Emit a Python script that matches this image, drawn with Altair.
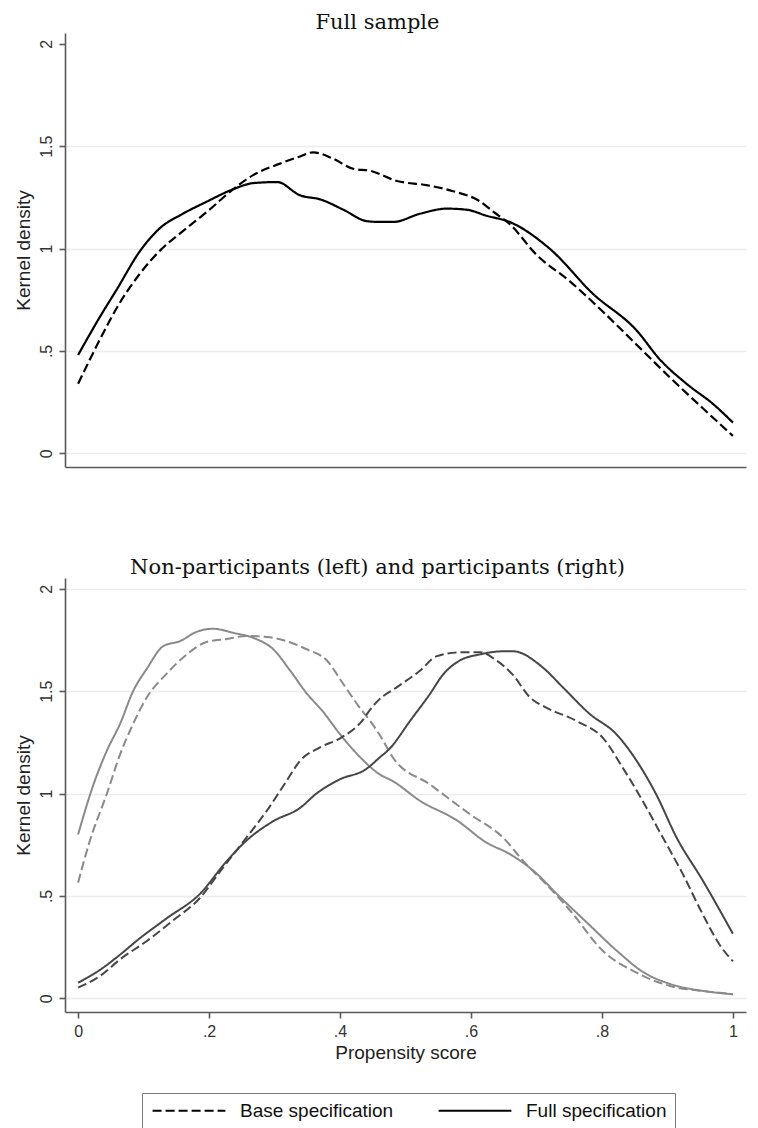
import altair as alt
import pandas as pd

# ---------------- data ----------------
# Top panel: full sample
top_full_x = [0, .034, .059, .095, .125, .16, .197, .237, .268, .304, .339, .37, .405, .441, .46, .481,
              .522, .563, .593, .624, .659, .72, .786, .853, .888, .929, .97, 1.0]
top_full_y = [.48, .67, .80, .99, 1.10, 1.17, 1.23, 1.29, 1.32, 1.325, 1.26, 1.24, 1.19, 1.134, 1.13, 1.13,
              1.17, 1.195, 1.19, 1.16, 1.13, 1.0, .78, .60, .46, .34, .24, .15]

top_base_x = [0, .034, .059, .095, .125, .16, .197, .237, .268, .304, .339, .359, .389, .42, .446, .487,
              .532, .573, .614, .634, .659, .7, .751, .802, .853, .904, .954, 1.0]
top_base_y = [.34, .56, .71, .88, .99, 1.085, 1.18, 1.29, 1.36, 1.41, 1.45, 1.47, 1.44, 1.39, 1.38, 1.33,
              1.31, 1.28, 1.23, 1.18, 1.12, .97, .84, .69, .53, .37, .22, .085]

# Bottom panel: non-participants (left)
np_full_x = [0, .023, .044, .064, .084, .105, .13, .156, .181, .206, .237, .268, .298, .324, .349, .374,
             .4, .43, .46, .481, .522, .578, .624, .659, .7, .731, .777, .827, .862, .904, .954, 1.0]
np_full_y = [.80, 1.04, 1.21, 1.34, 1.50, 1.61, 1.72, 1.745, 1.79, 1.805, 1.785, 1.76, 1.705, 1.60, 1.49, 1.40,
             1.29, 1.18, 1.095, 1.06, .965, .87, .76, .705, .61, .51, .37, .22, .13, .07, .036, .02]

np_base_x = [0, .018, .044, .064, .084, .105, .135, .166, .196, .227, .257, .288, .318, .349, .38, .405,
             .43, .446, .46, .481, .537, .598, .649, .68, .72, .751, .802, .853, .904, .954, 1.0]
np_base_y = [.565, .77, 1.0, 1.19, 1.34, 1.47, 1.585, 1.68, 1.74, 1.755, 1.77, 1.765, 1.745, 1.705, 1.65, 1.535,
             1.42, 1.355, 1.29, 1.175, 1.045, .90, .785, .67, .54, .43, .23, .125, .06, .036, .02]

# Bottom panel: participants (right)
p_full_x = [0, .034, .059, .095, .135, .186, .227, .257, .298, .339, .364, .4, .44, .446, .46, .476, .507,
            .537, .557, .583, .614, .649, .664, .71, .74, .781, .822, .853, .883, .914, .954, 1.0]
p_full_y = [.076, .14, .20, .295, .39, .51, .67, .77, .865, .93, 1.0, 1.07, 1.12, 1.135, 1.175, 1.22, 1.355,
            1.485, 1.58, 1.65, 1.68, 1.695, 1.695, 1.615, 1.52, 1.39, 1.29, 1.16, .995, .785, .575, .315]

p_base_x = [0, .034, .064, .105, .145, .186, .217, .257, .288, .318, .339, .369, .4, .435, .446, .46, .487,
            .522, .547, .583, .614, .639, .664, .69, .715, .761, .802, .832, .862, .893, .923, .954, .979, 1.0]
p_base_y = [.052, .11, .19, .28, .38, .49, .62, .785, .915, 1.06, 1.16, 1.225, 1.27, 1.36, 1.41, 1.46, 1.52,
            1.60, 1.67, 1.69, 1.69, 1.65, 1.58, 1.47, 1.42, 1.355, 1.27, 1.125, .965, .785, .61, .41, .265, .18]

SPECS = ["Base specification", "Full specification"]
GROUPS = ["Non-participants", "Participants"]
y_ticks = [0, 0.5, 1, 1.5, 2]
x_ticks = [0, 0.2, 0.4, 0.6, 0.8, 1]


def frame(xs, ys, spec, grp):
    return pd.DataFrame({"x": xs, "y": ys, "spec": spec, "grp": grp})


top_df = pd.concat([frame(top_base_x, top_base_y, SPECS[0], "All"),
                    frame(top_full_x, top_full_y, SPECS[1], "All")], ignore_index=True)
bot_df = pd.concat([frame(np_base_x, np_base_y, SPECS[0], GROUPS[0]),
                    frame(np_full_x, np_full_y, SPECS[1], GROUPS[0]),
                    frame(p_base_x, p_base_y, SPECS[0], GROUPS[1]),
                    frame(p_full_x, p_full_y, SPECS[1], GROUPS[1])], ignore_index=True)

X_DOM = [-0.02, 1.02]
Y_DOM = [-0.067, 2.053]
W, H = 681, 434

dash_scale = alt.Scale(domain=SPECS, range=[[9, 4], [1, 0]])
legend = alt.Legend(title=None, orient="none", legendX=77, legendY=1060, direction="horizontal",
                    symbolType="M-5.2,0H5.2", symbolSize=196, symbolStrokeWidth=2,
                    symbolOffset=29.5, symbolStrokeColor="black", symbolFillColor="transparent",
                    labelFont="Liberation Sans", labelFontSize=19,
                    labelColor="#111111", labelOffset=41.5, columnPadding=40, padding=8,
                    strokeColor="#7a7a7a", labelLimit=400)

y_label_expr = "datum.value == 0.5 ? '.5' : datum.value == 1.5 ? '1.5' : '' + datum.value"
x_label_expr = "datum.value == 0 ? '0' : datum.value == 1 ? '1' : '.' + round(datum.value * 10)"


def y_axis(hide_top_grid):
    grid_color = ({"condition": {"test": "datum.value == 2", "value": "transparent"}, "value": "#ececec"}
                  if hide_top_grid else "#ececec")
    return alt.Axis(title="Kernel density", values=y_ticks, labelExpr=y_label_expr, labelAngle=270,
                    labelAlign="center", labelBaseline="bottom", labelPadding=5, tickSize=6,
                    titlePadding=5, grid=True, gridColor=grid_color, gridWidth=1.5)


x_scale = alt.Scale(domain=X_DOM, nice=False, zero=False)
y_scale = alt.Scale(domain=Y_DOM, nice=False, zero=False)

top = alt.Chart(top_df).mark_line(strokeWidth=2.2, color="black", interpolate="monotone").encode(
    x=alt.X("x:Q", scale=x_scale, axis=alt.Axis(title=None, labels=False, ticks=False, grid=False)),
    y=alt.Y("y:Q", scale=y_scale, axis=y_axis(True)),
    strokeDash=alt.StrokeDash("spec:N", scale=dash_scale, legend=legend),
).properties(width=W, height=H, title="Full sample")

bottom = alt.Chart(bot_df).mark_line(strokeWidth=2, interpolate="monotone").encode(
    x=alt.X("x:Q", scale=x_scale,
            axis=alt.Axis(title="Propensity score", values=x_ticks, labelExpr=x_label_expr,
                          tickSize=6, labelPadding=5, titlePadding=4, grid=False)),
    y=alt.Y("y:Q", scale=y_scale, axis=y_axis(False)),
    color=alt.Color("grp:N", scale=alt.Scale(domain=GROUPS, range=["#8a8a8a", "#464646"]), legend=None),
    strokeDash=alt.StrokeDash("spec:N", scale=dash_scale, legend=legend),
).properties(width=W, height=H, title="Non-participants (left) and participants (right)")

chart = alt.vconcat(top, bottom, spacing=111, bounds="flush").properties(
    padding={"left": 6, "top": 3, "right": 4, "bottom": 0}
).configure_view(stroke=None).configure_axis(
    domainColor="#5a5a5a", domainWidth=1.6, tickColor="#5a5a5a", tickWidth=1.6,
    labelFont="Liberation Sans", labelFontSize=16, labelColor="#333333",
    titleFont="Liberation Sans", titleFontSize=19, titleFontWeight="normal", titleColor="#222222",
).configure_title(
    font="DejaVu Serif", fontSize=21, fontWeight="normal", color="#111111", anchor="middle",
    dx=-28, offset=0.01, baseline="alphabetic",
)

chart.save("out.html", embed_options={"renderer": "svg", "actions": False})
